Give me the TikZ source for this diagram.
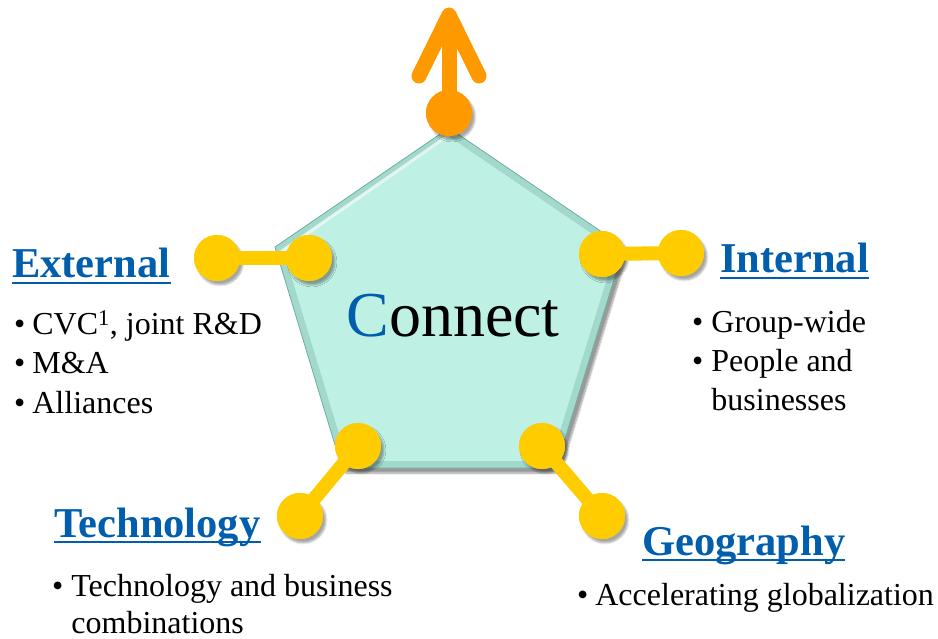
\documentclass[tikz,border=0pt]{standalone}
\usepackage{fontspec}
\setmainfont{Liberation Serif}
\usetikzlibrary{shadows.blur}
\definecolor{aqua}{RGB}{190,240,228}
\definecolor{aquaedge}{RGB}{110,175,160}
\definecolor{dot}{RGB}{255,204,0}
\definecolor{orng}{RGB}{255,153,0}
\definecolor{hblue}{RGB}{0,94,172}
\begin{document}
\begin{tikzpicture}[x=1pt,y=-1pt,
 dotnode/.style={circle,fill=dot,minimum size=46pt,inner sep=0pt,
   blur shadow={shadow xshift=3pt,shadow yshift=-4pt,shadow opacity=35,shadow blur steps=6}},
 link/.style={draw=dot,line width=14pt},
 arrowline/.style={draw=orng,line width=15pt,line cap=round,line join=round},
 head/.style={anchor=base west,inner sep=0pt,text=hblue,font=\fontsize{42.5}{42.5}\selectfont\bfseries},
 uline/.style={draw=hblue,line width=2.5pt},
 body/.style={anchor=base west,inner sep=0pt,font=\fontsize{32}{39}\selectfont},
]
\useasboundingbox (0,0) rectangle (938,639);

% pentagon
\coordinate (pT) at (449,128);
\coordinate (pL) at (275,247);
\coordinate (pR) at (624,247);
\coordinate (pBR) at (556,468);
\coordinate (pBL) at (342,468);
\fill[aqua,blur shadow={shadow xshift=4pt,shadow yshift=-5pt,shadow opacity=40,shadow blur steps=8}]
  (pT) -- (pR) -- (pBR) -- (pBL) -- (pL) -- cycle;
\begin{scope}
\clip (pT) -- (pR) -- (pBR) -- (pBL) -- (pL) -- cycle;
\draw[aquaedge,opacity=.35,line width=14pt,line join=round] (pT) -- (pR) -- (pBR) -- (pBL) -- (pL) -- cycle;
\draw[white,opacity=.7,line width=3pt] ([shift={(4pt,-6pt)}]pL) -- ([shift={(0pt,-7pt)}]pT);
\end{scope}
\draw[aquaedge,line width=0.8pt,line join=round] (pT) -- (pR) -- (pBR) -- (pBL) -- (pL) -- cycle;

\node[anchor=base,inner sep=0pt,font=\fontsize{64}{64}\selectfont] (conn) at (453,337) {{\color{hblue}C}onnect};

% dot positions
\path (217,258) node[dotnode] (l2) {};
\path (309,258) node[dotnode] (l1) {};
\path (602,254) node[dotnode] (r1) {};
\path (681,253) node[dotnode] (r2) {};
\path (358,446) node[dotnode] (bl1) {};
\path (300,516) node[dotnode] (bl2) {};
\path (542,446) node[dotnode] (br1) {};
\path (602,516) node[dotnode] (br2) {};

% links
\draw[link] (l1.center) -- (l2.center);
\draw[link] (r1.center) -- (r2.center);
\draw[link] (bl1.center) -- (bl2.center);
\draw[link] (br1.center) -- (br2.center);
\foreach \d in {l1,l2,r1,r2,bl1,bl2,br1,br2}
  \node[circle,fill=dot,minimum size=46pt,inner sep=0pt] at (\d) {};

% orange arrow
\coordinate (tip) at (449,15);
\coordinate (armL) at (419,76);
\coordinate (armR) at (479,76);
\path (449,113) node[dotnode,fill=orng] (oc) {};
\draw[arrowline,line cap=butt] (oc.center) -- (tip);
\draw[arrowline] (armL) -- (tip) -- (armR);
\node[circle,fill=orng,minimum size=46pt,inner sep=0pt] at (oc) {};

% headings
\node[head] (ext) at (12,278) {External};
\node[head] (int) at (720,273) {Internal};
\node[head] (tech) at (54,537) {Technology};
\node[head] (geo) at (642,555) {Geography};
\foreach \h in {ext,int,tech,geo}
  \draw[uline] ([yshift=-5pt]\h.base west) -- ([yshift=-5pt]\h.base east);

% bodies
\node[body] (extb) at (14,335) {\begin{tabular}[t]{@{}l@{\hspace{7pt}}l@{}}
 •& CVC\textsuperscript{1}, joint R\&D\\
 •& M\&A\\
 •& Alliances\end{tabular}};
\node[body] (intb) at (692,333) {\begin{tabular}[t]{@{}l@{\hspace{8pt}}l@{}}
 •& Group-wide\\
 •& People and\\
  & businesses\end{tabular}};
\node[body,font=\fontsize{32}{37}\selectfont] (techb) at (52,596) {\begin{tabular}[t]{@{}l@{\hspace{8pt}}l@{}}
 •& Technology and business\\
  & combinations\end{tabular}};
\node[body] (geob) at (577,605) {\begin{tabular}[t]{@{}l@{\hspace{7pt}}l@{}}
 •& Accelerating globalization\end{tabular}};
\end{tikzpicture}
\end{document}
